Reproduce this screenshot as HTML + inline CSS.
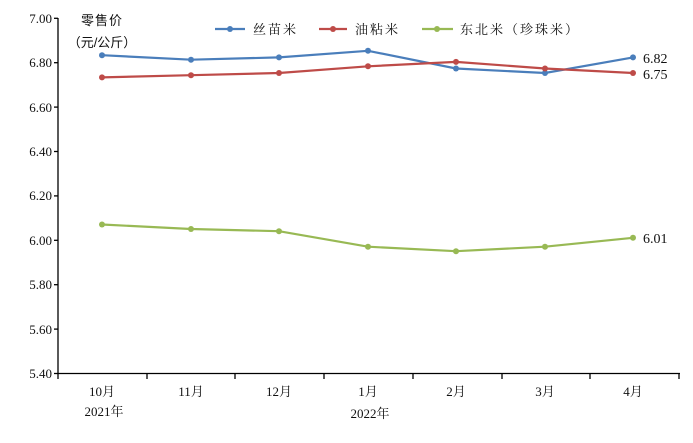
<!DOCTYPE html>
<html><head><meta charset="utf-8"><style>
body{margin:0;background:#fff}
svg text{font-family:"Liberation Serif","Noto Serif CJK SC","Noto Sans CJK SC",serif;fill:#111}
.c{font-family:"Liberation Sans","Noto Sans CJK SC",sans-serif}
</style></head><body>
<svg width="693" height="438" viewBox="0 0 693 438" xmlns="http://www.w3.org/2000/svg">
<g stroke="#000" stroke-width="1.3">
<line x1="58" y1="18" x2="58" y2="374"/>
<line x1="58" y1="373.5" x2="680" y2="373.5"/>
<line x1="54" y1="18.3" x2="58" y2="18.3"/><line x1="54" y1="62.7" x2="58" y2="62.7"/><line x1="54" y1="107.1" x2="58" y2="107.1"/><line x1="54" y1="151.5" x2="58" y2="151.5"/><line x1="54" y1="195.9" x2="58" y2="195.9"/><line x1="54" y1="240.3" x2="58" y2="240.3"/><line x1="54" y1="284.7" x2="58" y2="284.7"/><line x1="54" y1="329.1" x2="58" y2="329.1"/><line x1="54" y1="373.5" x2="58" y2="373.5"/>
<line x1="58" y1="373" x2="58" y2="379"/><line x1="147" y1="373" x2="147" y2="379"/><line x1="235" y1="373" x2="235" y2="379"/><line x1="324" y1="373" x2="324" y2="379"/><line x1="413" y1="373" x2="413" y2="379"/><line x1="502" y1="373" x2="502" y2="379"/><line x1="590" y1="373" x2="590" y2="379"/><line x1="679" y1="373" x2="679" y2="379"/>
</g>
<g font-size="13" text-anchor="end">
<text x="52" y="23">7.00</text><text x="52" y="67">6.80</text><text x="52" y="112">6.60</text><text x="52" y="156">6.40</text><text x="52" y="200">6.20</text><text x="52" y="245">6.00</text><text x="52" y="289">5.80</text><text x="52" y="334">5.60</text><text x="52" y="378">5.40</text>
</g>
<g font-size="13" text-anchor="middle">
<text x="102" y="396">10月</text><text x="191" y="396">11月</text><text x="279" y="396">12月</text><text x="368" y="396">1月</text><text x="456" y="396">2月</text><text x="545" y="396">3月</text><text x="633" y="396">4月</text>
<text x="104" y="416">2021年</text><text x="370" y="418">2022年</text>
</g>
<text class="c" x="102" y="25" font-size="13" text-anchor="middle" letter-spacing="1">零售价</text>
<text class="c" x="102" y="47" font-size="13" text-anchor="middle">（元/公斤）</text>
<g fill="none" stroke-width="2.2">
<polyline stroke="#4a7ebb" points="102,55.2 191,59.7 279,57.4 368,50.8 456,68.5 545,73.0 633,57.4"/>
<polyline stroke="#be4b48" points="102,77.4 191,75.2 279,73.0 368,66.3 456,61.9 545,68.5 633,73.0"/>
<polyline stroke="#98b954" points="102,224.5 191,229.0 279,231.2 368,246.7 456,251.2 545,246.7 633,237.8"/>
<line stroke="#4a7ebb" x1="215" y1="29" x2="245" y2="29"/>
<line stroke="#be4b48" x1="319" y1="29" x2="347" y2="29"/>
<line stroke="#98b954" x1="422" y1="29" x2="453" y2="29"/>
</g>
<g fill="#4a7ebb"><circle cx="102" cy="55.2" r="3"/><circle cx="191" cy="59.7" r="3"/><circle cx="279" cy="57.4" r="3"/><circle cx="368" cy="50.8" r="3"/><circle cx="456" cy="68.5" r="3"/><circle cx="545" cy="73.0" r="3"/><circle cx="633" cy="57.4" r="3"/><circle cx="230" cy="29" r="3"/></g>
<g fill="#be4b48"><circle cx="102" cy="77.4" r="3"/><circle cx="191" cy="75.2" r="3"/><circle cx="279" cy="73.0" r="3"/><circle cx="368" cy="66.3" r="3"/><circle cx="456" cy="61.9" r="3"/><circle cx="545" cy="68.5" r="3"/><circle cx="633" cy="73.0" r="3"/><circle cx="333" cy="29" r="3"/></g>
<g fill="#98b954"><circle cx="102" cy="224.5" r="3"/><circle cx="191" cy="229.0" r="3"/><circle cx="279" cy="231.2" r="3"/><circle cx="368" cy="246.7" r="3"/><circle cx="456" cy="251.2" r="3"/><circle cx="545" cy="246.7" r="3"/><circle cx="633" cy="237.8" r="3"/><circle cx="437" cy="29" r="3"/></g>
<g font-size="14"><text x="643" y="63">6.82</text><text x="643" y="79">6.75</text><text x="643" y="243">6.01</text></g>
<g class="c" font-size="13" letter-spacing="2"><text x="253" y="34">丝苗米</text><text x="355" y="34">油粘米</text><text x="460" y="34">东北米（珍珠米）</text></g>
</svg>
</body></html>
